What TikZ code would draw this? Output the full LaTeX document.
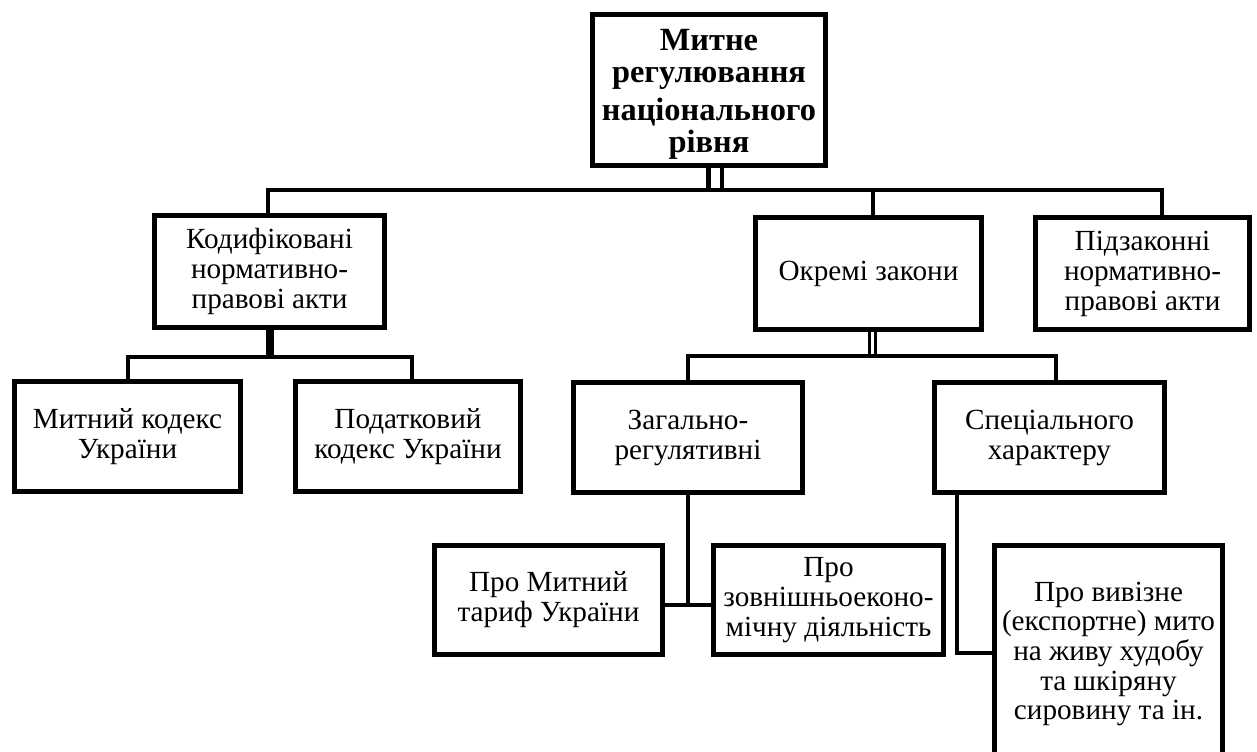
\documentclass[tikz,border=0pt]{standalone}
\usepackage{fontspec}
\setmainfont{Liberation Serif}
\usetikzlibrary{calc}
\begin{document}
\begin{tikzpicture}[x=0.5pt,y=-0.5pt,
  bx/.style={draw, line width=2.3pt, inner sep=0pt, align=center, font=\fontsize{14.6}{15}\selectfont},
  txt/.style={inner sep=0pt, align=center, font=\fontsize{14.6}{14.8}\selectfont},
  ln/.style={line width=2.2pt},
  dblA/.style={line width=2.25pt, double, double distance=4.5pt},
  dblB/.style={line width=1.65pt, double, double distance=1.5pt},
  thk/.style={line width=4pt}]
\useasboundingbox (0,0) rectangle (1257,751);
% boxes
\node[bx, minimum width=116.7pt, minimum height=75.7pt, font=\fontsize{16.2}{16}\selectfont\bfseries] (top) at (709,90)
  {\rule{0pt}{14.5pt}Митне\\регулювання\\[3pt]національного\\рівня};
\node[bx, minimum width=115.2pt, minimum height=56.2pt] (kod) at (269.5,271.5) {Кодифіковані\\нормативно-\\правові акти};
\node[bx, minimum width=113.2pt, minimum height=56.2pt] (okr) at (868.5,273.5) {Окремі закони};
\node[bx, minimum width=107.2pt, minimum height=56.2pt] (pid) at (1142.5,273.5) {Підзаконні\\нормативно-\\правові акти};
\node[bx, minimum width=113.2pt, minimum height=55.2pt] (mk) at (127.5,436.5) {Митний кодекс\\України};
\node[bx, minimum width=112.7pt, minimum height=55.2pt] (pk) at (408,436.5) {Податковий\\кодекс України};
\node[bx, minimum width=114.7pt, minimum height=55.2pt] (zag) at (688,437.5) {Загально-\\регулятивні};
\node[bx, minimum width=115.2pt, minimum height=55.2pt] (spec) at (1049.5,437.5) {Спеціального\\характеру};
\node[bx, minimum width=114.2pt, minimum height=54.7pt] (tariff) at (548.5,600) {Про Митний\\тариф України};
\node[bx, minimum width=115.2pt, minimum height=54.7pt] (zed) at (828.5,600) {Про\\зовнішньоеконо-\\мічну діяльність};
\node[bx, minimum width=114.2pt, minimum height=113.7pt] (viv) at (1108.5,659) {};
\node[txt] (vivt) at (1108.5,654) {Про вивізне\\(експортне) мито\\на живу худобу\\та шкіряну\\сировину та ін.};
% connector coordinates
\coordinate (busA) at (268,190);
\coordinate (busB) at (1162,190);
\coordinate (busM) at (873,190);
\coordinate (busT) at (715,190);
\coordinate (subL1) at (128,357);
\coordinate (subL2) at (412,357);
\coordinate (subM1) at (688,356);
\coordinate (subM2) at (1056,356);
\coordinate (subMc) at (872.5,356);
\coordinate (j1) at (688,605);
\coordinate (j2) at (957,653);
% connectors
\draw[dblA] (busT |- top.south) -- (busT);
\draw[ln] (busA |- kod.north) -- (busA) -- (busB) -- (busB |- pid.north);
\draw[ln] (busM) -- (busM |- okr.north);
\draw[thk] (kod.south) -- (kod.south |- subL1);
\draw[ln] (subL1 |- mk.north) -- (subL1) -- (subL2) -- (subL2 |- pk.north);
\draw[dblB] (subMc |- okr.south) -- (subMc);
\draw[ln] (subM1 |- zag.north) -- (subM1) -- (subM2) -- (subM2 |- spec.north);
\draw[ln] (zag.south) -- (j1);
\draw[ln] (tariff.east |- j1) -- (zed.west |- j1);
\draw[ln] (j2 |- spec.south) -- (j2) -- (j2 -| viv.west);
\end{tikzpicture}
\end{document}
